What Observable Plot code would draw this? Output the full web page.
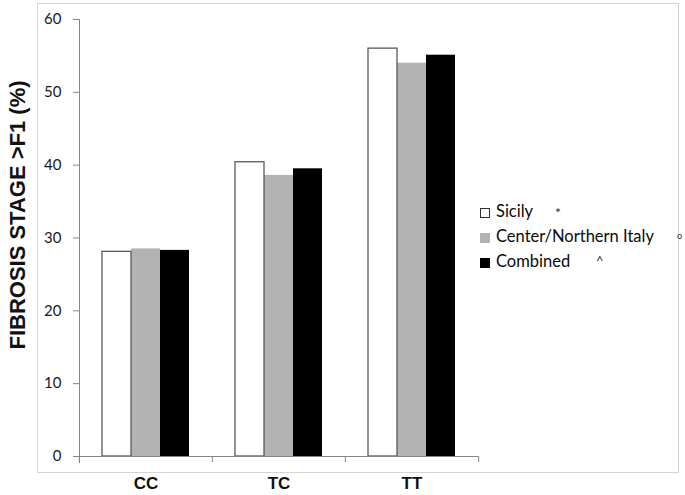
<!DOCTYPE html>
<html><head><meta charset="utf-8">
<script src="https://cdn.jsdelivr.net/npm/d3@7"></script>
<script src="https://cdn.jsdelivr.net/npm/@observablehq/plot@0.6"></script>
<style>
body{margin:0;background:#fff;}
#wrap{position:relative;width:685px;height:495px;overflow:hidden;}
#wrap svg{position:absolute;left:0;top:0;}
#frame{position:absolute;left:37px;top:3px;width:642px;height:470px;border:1.5px solid #d4d4d4;box-sizing:border-box;pointer-events:none;}
#legend{position:absolute;left:480px;top:201px;font-family:Lato,"Open Sans",sans-serif;font-size:16.5px;color:#0a0a0a;}
.row{position:relative;height:25px;line-height:20px;white-space:nowrap;}
.sw{display:inline-block;width:10px;height:10px;box-sizing:border-box;margin-right:6px;vertical-align:-1px;}
.mk{position:absolute;color:#333;}
</style>
</head><body>
<div id="wrap"><div id="frame"></div><div id="legend"></div></div>
<script>
const genotypes = ["CC", "TC", "TT"];
const series = ["Sicily", "Center/Northern Italy", "Combined"];
const sicily = [28.1, 40.4, 56.0];
const centerNorth = [28.5, 38.6, 54.0];
const combined = [28.3, 39.5, 55.1];
const markers = ["*", "o", "^"];
const yTicks = [0, 10, 20, 30, 40, 50, 60];
const yLabel = "FIBROSIS STAGE >F1 (%)";

const colors = ["#ffffff", "#b3b3b3", "#000000"];
const seriesValues = [sicily, centerNorth, combined];
const data = genotypes.flatMap((g, i) => series.map((s, j) => ({genotype: g, series: s, value: seriesValues[j][i]})));

const W = 685, H = 495, ML = 78, MR = 207, MT = 19, MB = 39;
const half = (W - ML - MR) / genotypes.length / 2;

const chart = Plot.plot({
  width: W, height: H,
  marginLeft: ML, marginRight: MR, marginTop: MT, marginBottom: MB,
  style: {fontFamily: "Lato, 'Open Sans', sans-serif", background: "transparent"},
  fx: {domain: genotypes, padding: 0, label: null, axis: null},
  x: {domain: series, paddingInner: 0, paddingOuter: 0.763, axis: null},
  y: {domain: [0, 60], label: null},
  color: {domain: series, range: colors},
  marks: [
    Plot.barY(data, {fx: "genotype", x: "series", y: "value", fill: "series", inset: 0}),
    Plot.barY(data.filter(d => d.series === series[0]), {fx: "genotype", x: "series", y: "value", fill: "none", stroke: "#595959", strokeWidth: 1.3, inset: 0}),
    Plot.ruleY([0], {stroke: "#868686"}),
    Plot.frame({anchor: "left", fx: () => genotypes[0], stroke: "#868686", insetBottom: -6}),
    Plot.axisY({ticks: yTicks, tickSize: 6, tickPadding: 12, stroke: "#868686", color: "#1a1a1a", fontSize: 15,
      label: yLabel, labelAnchor: "center", labelArrow: "none", labelOffset: 70}),
    Plot.axisFx({anchor: "bottom", tickSize: 6, tickFormat: null, dx: -half, stroke: "#868686", label: null}),
    Plot.axisFx({anchor: "bottom", ticks: [genotypes[genotypes.length - 1]], tickSize: 6, tickFormat: null, dx: half, stroke: "#868686", label: null}),
    Plot.axisFx({anchor: "bottom", tickSize: 0, tickPadding: 20, fontSize: 17, fontWeight: "bold", fontFamily: "'Liberation Sans', Arial, sans-serif", color: "#111", label: null})
  ]
});
document.getElementById("wrap").prepend(chart);

const lab = chart.querySelector('[aria-label="y-axis label"]');
if (lab) {
  lab.setAttribute("font-size", 22);
  lab.setAttribute("font-weight", "bold");
  lab.setAttribute("font-family", "'Liberation Sans', Arial, sans-serif");
  lab.setAttribute("fill", "#111");
  lab.querySelectorAll("text").forEach(t => t.setAttribute("dx", 23));
}

const markerLeft = [75, 197, 116];
const markerSize = [14, 9, 13];
const markerTop = [2, 0, 0];
const legend = document.getElementById("legend");
series.forEach((s, i) => {
  const row = document.createElement("div");
  row.className = "row";
  const sw = document.createElement("span");
  sw.className = "sw";
  sw.style.background = colors[i];
  sw.style.border = i === 0 ? "1.2px solid #333" : "none";
  row.appendChild(sw);
  row.appendChild(document.createTextNode(s));
  const mk = document.createElement("span");
  mk.className = "mk";
  mk.textContent = markers[i];
  mk.style.left = markerLeft[i] + "px";
  mk.style.top = markerTop[i] + "px";
  mk.style.fontSize = markerSize[i] + "px";
  row.appendChild(mk);
  legend.appendChild(row);
});
</script>
</body></html>
